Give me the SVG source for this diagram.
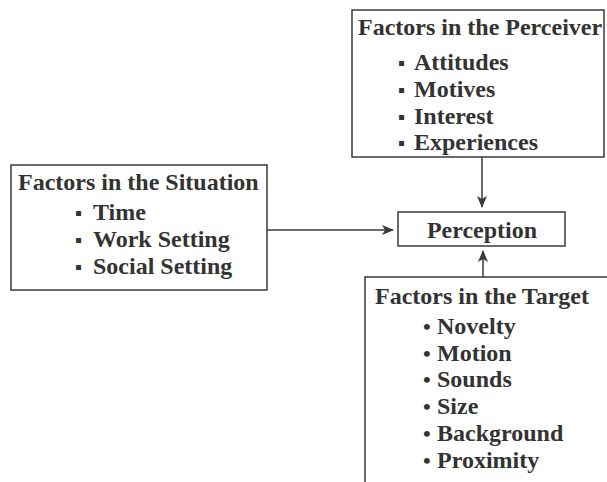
<svg xmlns="http://www.w3.org/2000/svg" width="607" height="482" viewBox="0 0 607 482">
<style>
.box{fill:#fff;stroke:#3a3a3a;stroke-width:1.5}
.t{font-family:"Liberation Serif","Times New Roman",serif;font-weight:bold;font-size:24px;fill:#333}
.b{font-size:20px}
.d{font-size:22px}
.ln{stroke:#3a3a3a;stroke-width:1.5;fill:none}
</style>
<defs>
<marker id="ah" markerWidth="12" markerHeight="10" refX="11" refY="5" orient="auto" markerUnits="userSpaceOnUse">
<path d="M0,0 L12,5 L0,10 L3,5 Z" fill="#3a3a3a"/>
</marker>
</defs>
<rect width="607" height="482" fill="#fff"/>
<g id="perceiver">
<rect class="box" x="352" y="10" width="252" height="147"/>
<text class="t" x="358" y="35">Factors in the Perceiver</text>
<text class="t" y="70"><tspan class="b" x="398">▪</tspan><tspan x="414">Attitudes</tspan></text>
<text class="t" y="97"><tspan class="b" x="398">▪</tspan><tspan x="414">Motives</tspan></text>
<text class="t" y="124"><tspan class="b" x="398">▪</tspan><tspan x="414">Interest</tspan></text>
<text class="t" y="150"><tspan class="b" x="398">▪</tspan><tspan x="414">Experiences</tspan></text>
</g>
<g id="situation">
<rect class="box" x="11" y="165" width="256" height="125"/>
<text class="t" x="18" y="190">Factors in the Situation</text>
<text class="t" y="220"><tspan class="b" x="75">▪</tspan><tspan x="93">Time</tspan></text>
<text class="t" y="247"><tspan class="b" x="75">▪</tspan><tspan x="93">Work Setting</tspan></text>
<text class="t" y="274"><tspan class="b" x="75">▪</tspan><tspan x="93">Social Setting</tspan></text>
</g>
<g id="perception">
<rect class="box" x="398" y="212" width="167" height="34"/>
<text class="t" x="482" y="238" text-anchor="middle">Perception</text>
</g>
<g id="target">
<path class="box" d="M365,490 L365,277 L615,277"/>
<text class="t" x="375" y="304">Factors in the Target</text>
<text class="t" y="334"><tspan class="d" x="423">•</tspan><tspan x="437">Novelty</tspan></text>
<text class="t" y="361"><tspan class="d" x="423">•</tspan><tspan x="437">Motion</tspan></text>
<text class="t" y="387"><tspan class="d" x="423">•</tspan><tspan x="437">Sounds</tspan></text>
<text class="t" y="414"><tspan class="d" x="423">•</tspan><tspan x="437">Size</tspan></text>
<text class="t" y="441"><tspan class="d" x="423">•</tspan><tspan x="437">Background</tspan></text>
<text class="t" y="468"><tspan class="d" x="423">•</tspan><tspan x="437">Proximity</tspan></text>
</g>
<g id="connectors">
<line class="ln" x1="267" y1="230" x2="393" y2="230" marker-end="url(#ah)"/>
<line class="ln" x1="482" y1="157" x2="482" y2="207" marker-end="url(#ah)"/>
<line class="ln" x1="483" y1="277" x2="483" y2="251" marker-end="url(#ah)"/>
</g>
</svg>
